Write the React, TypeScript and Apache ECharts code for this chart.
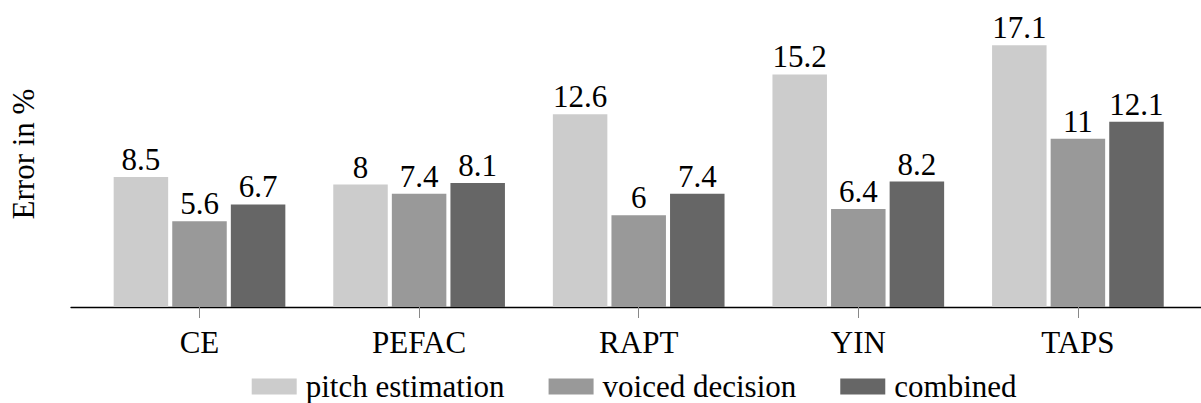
import React, { useEffect, useRef } from "react";
import * as echarts from "echarts";

const categories = ["CE", "PEFAC", "RAPT", "YIN", "TAPS"];
const pitchEstimation = [8.5, 8, 12.6, 15.2, 17.1];
const voicedDecision = [5.6, 7.4, 6, 6.4, 11];
const combined = [6.7, 8.1, 7.4, 8.2, 12.1];
const seriesNames = ["pitch estimation", "voiced decision", "combined"];
const colors = ["#cccccc", "#999999", "#666666"];

const FONT = "'Liberation Serif', 'Times New Roman', serif";
const FS = 31;

export default function App() {
  const ref = useRef<HTMLDivElement>(null);
  useEffect(() => {
    document.body.style.margin = "0";
    const chart = echarts.init(ref.current!, null, { renderer: "svg" });
    const mk = (name: string, data: number[], color: string) => ({
      name,
      type: "bar",
      xAxisIndex: 0,
      yAxisIndex: 0,
      data,
      barWidth: 54.5,
      barGap: "7.5%",
      itemStyle: { color },
      label: {
        show: true,
        position: "top",
        distance: 2,
        color: "#000",
        fontFamily: FONT,
        fontSize: FS,
      },
    });
    chart.setOption({
      animation: false,
      textStyle: { fontFamily: FONT },
      legend: {
        data: seriesNames,
        left: 251.7,
        top: 371,
        padding: 0,
        itemWidth: 45,
        itemHeight: 16,
        itemGap: 44,
        icon: "rect",
        textStyle: {
          fontFamily: FONT,
          fontSize: FS,
          color: "#000",
          padding: [0, 0, 0, 4],
        },
      },
      grid: [
        { left: 89.7, width: 1098, top: 1, bottom: 96 },
        { left: 68, width: 1141.5, top: 1, bottom: 96 },
      ],
      xAxis: [
        {
          type: "category",
          gridIndex: 0,
          data: categories,
          axisLine: { show: false },
          axisTick: {
            show: true,
            alignWithLabel: true,
            length: 11,
            lineStyle: { color: "#888", width: 1 },
          },
          axisLabel: {
            margin: 20,
            color: "#000",
            fontFamily: FONT,
            fontSize: FS,
          },
        },
        {
          type: "value",
          gridIndex: 1,
          min: -0.6,
          max: 4.6,
          axisLine: { show: true, lineStyle: { color: "#000", width: 1.3 } },
          axisTick: { show: false },
          axisLabel: { show: false },
          splitLine: { show: false },
        },
      ],
      yAxis: [
        {
          type: "value",
          gridIndex: 0,
          min: 0,
          max: 20,
          show: false,
        },
        {
          type: "value",
          gridIndex: 1,
          min: 0,
          max: 20,
          axisLine: { show: false },
          axisTick: { show: false },
          axisLabel: { show: false },
          splitLine: { show: false },
          name: "Error in %",
          nameLocation: "middle",
          nameGap: 32,
          nameTextStyle: { fontFamily: FONT, fontSize: FS, color: "#000" },
        },
      ],
      series: [
        mk(seriesNames[0], pitchEstimation, colors[0]),
        mk(seriesNames[1], voicedDecision, colors[1]),
        mk(seriesNames[2], combined, colors[2]),
      ],
    });
    return () => chart.dispose();
  }, []);
  return <div ref={ref} style={{ width: 1201, height: 403 }} />;
}
